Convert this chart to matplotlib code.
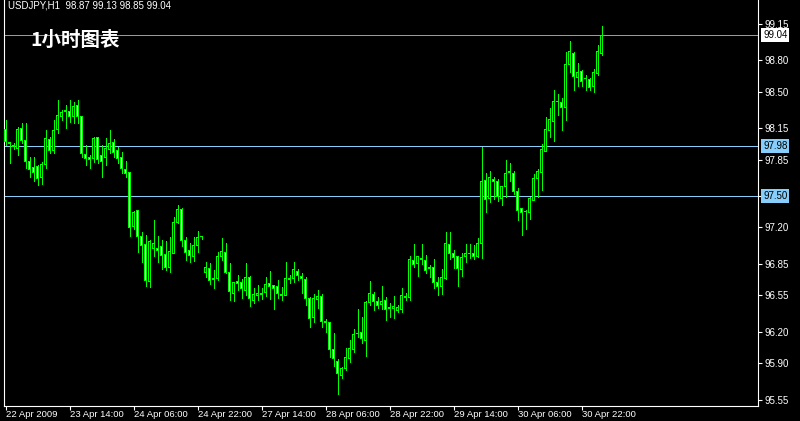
import matplotlib
matplotlib.use('Agg')
import matplotlib.pyplot as plt
from matplotlib.patches import Rectangle

# ---- data (USDJPY H1, 150 bars starting 22 Apr 2009 22:00) ----
opens = [
    98.14, 98.01, 97.98, 97.96, 98.15, 98.03, 97.83, 97.77, 97.78, 97.68,
    97.80, 98.04, 97.94, 98.14, 98.26, 98.31, 98.31, 98.26, 98.37, 98.26,
    97.90, 97.87, 97.86, 98.06, 97.89, 97.87, 97.95, 98.01, 97.94, 97.87,
    97.75, 97.73, 97.21, 97.36, 97.11, 97.04, 96.68, 97.00, 97.00, 97.02,
    96.94, 96.82, 96.95, 97.25, 97.37, 97.07, 96.98, 96.92, 97.03, 97.11,
    96.77, 96.81, 96.71, 96.71, 96.92, 96.96, 96.77, 96.57, 96.68, 96.67,
    96.60, 96.72, 96.50, 96.55, 96.56, 96.58, 96.66, 96.64, 96.63, 96.56,
    96.55, 96.71, 96.71, 96.78, 96.73, 96.70, 96.52, 96.34, 96.51, 96.54,
    96.30, 96.29, 96.03, 95.92, 95.78, 95.85, 95.94, 96.03, 96.18, 96.19,
    96.12, 96.48, 96.56, 96.49, 96.46, 96.50, 96.43, 96.42, 96.40, 96.41,
    96.53, 96.53, 96.88, 96.85, 96.90, 96.88, 96.82, 96.82, 96.67, 96.63,
    96.71, 97.04, 96.95, 96.92, 96.80, 96.92, 96.95, 96.95, 96.92, 97.05,
    97.65, 97.48, 97.66, 97.64, 97.48, 97.59, 97.74, 97.72, 97.54, 97.38,
    97.35, 97.34, 97.46, 97.67, 97.73, 97.93, 98.13, 98.21, 98.41, 98.40,
    98.35, 98.76, 98.87, 98.64, 98.69, 98.63, 98.62, 98.55, 98.67, 98.87,
]
highs = [
    98.23, 98.02, 98.01, 98.16, 98.20, 98.20, 97.87, 97.87, 97.80, 97.83,
    98.13, 98.07, 98.23, 98.42, 98.32, 98.37, 98.42, 98.40, 98.42, 98.26,
    97.99, 97.89, 98.07, 98.06, 97.99, 98.06, 98.13, 98.05, 97.97, 97.92,
    97.84, 97.73, 97.36, 97.36, 97.16, 97.13, 97.08, 97.27, 97.12, 97.08,
    97.07, 97.11, 97.30, 97.41, 97.39, 97.11, 97.05, 97.11, 97.17, 97.12,
    96.87, 96.86, 96.79, 96.96, 97.10, 97.05, 96.86, 96.68, 96.74, 96.71,
    96.86, 96.73, 96.62, 96.65, 96.62, 96.72, 96.78, 96.65, 96.70, 96.63,
    96.87, 96.74, 96.87, 96.80, 96.76, 96.72, 96.53, 96.56, 96.60, 96.56,
    96.32, 96.29, 96.19, 95.94, 95.86, 96.04, 96.12, 96.23, 96.42, 96.34,
    96.49, 96.69, 96.58, 96.53, 96.64, 96.53, 96.48, 96.54, 96.46, 96.62,
    96.57, 96.93, 97.04, 96.93, 97.04, 96.94, 96.84, 96.90, 96.72, 96.80,
    97.16, 97.16, 96.98, 96.93, 96.95, 97.04, 97.04, 97.03, 97.10, 97.97,
    97.72, 97.74, 97.68, 97.66, 97.59, 97.85, 97.82, 97.74, 97.58, 97.39,
    97.37, 97.49, 97.71, 97.76, 98.00, 98.26, 98.34, 98.52, 98.48, 98.44,
    98.88, 98.99, 98.88, 98.77, 98.71, 98.66, 98.63, 98.72, 98.95, 99.13,
]
lows = [
    97.99, 97.82, 97.95, 97.89, 98.01, 97.77, 97.68, 97.64, 97.61, 97.62,
    97.77, 97.91, 97.91, 98.10, 98.23, 98.15, 98.21, 98.20, 98.20, 97.87,
    97.80, 97.77, 97.83, 97.82, 97.68, 97.80, 97.91, 97.87, 97.82, 97.72,
    97.68, 97.12, 97.18, 96.96, 96.87, 96.64, 96.63, 96.93, 96.87, 96.80,
    96.79, 96.77, 96.95, 97.24, 97.02, 96.89, 96.87, 96.88, 96.96, 97.09,
    96.72, 96.66, 96.62, 96.70, 96.89, 96.76, 96.50, 96.49, 96.60, 96.52,
    96.55, 96.45, 96.48, 96.50, 96.51, 96.54, 96.51, 96.42, 96.52, 96.50,
    96.55, 96.67, 96.68, 96.70, 96.57, 96.46, 96.25, 96.29, 96.43, 96.25,
    96.20, 95.96, 95.87, 95.60, 95.76, 95.83, 95.91, 96.01, 96.15, 96.09,
    95.97, 96.46, 96.41, 96.43, 96.42, 96.31, 96.34, 96.33, 96.39, 96.39,
    96.50, 96.50, 96.82, 96.73, 96.85, 96.76, 96.72, 96.62, 96.55, 96.56,
    96.71, 96.90, 96.81, 96.64, 96.73, 96.87, 96.91, 96.90, 96.92, 96.91,
    97.35, 97.44, 97.47, 97.45, 97.41, 97.49, 97.64, 97.52, 97.27, 97.13,
    97.18, 97.28, 97.46, 97.49, 97.56, 97.93, 98.07, 98.03, 98.28, 98.13,
    98.23, 98.69, 98.52, 98.55, 98.55, 98.52, 98.52, 98.50, 98.66, 98.85,
]
closes = [
    98.02, 98.00, 97.97, 98.14, 98.03, 97.83, 97.75, 97.73, 97.67, 97.80,
    98.05, 97.94, 98.13, 98.27, 98.30, 98.32, 98.26, 98.36, 98.26, 97.91,
    97.86, 97.85, 98.05, 97.85, 97.83, 97.96, 98.00, 97.92, 97.86, 97.76,
    97.72, 97.20, 97.34, 97.11, 97.03, 96.69, 97.06, 97.05, 96.98, 96.93,
    96.82, 96.97, 97.25, 97.37, 97.07, 96.96, 96.93, 97.03, 97.10, 97.11,
    96.82, 96.69, 96.70, 96.92, 96.97, 96.77, 96.59, 96.67, 96.66, 96.61,
    96.72, 96.52, 96.56, 96.57, 96.57, 96.65, 96.63, 96.61, 96.57, 96.55,
    96.71, 96.70, 96.80, 96.74, 96.71, 96.52, 96.33, 96.52, 96.54, 96.30,
    96.29, 96.03, 95.94, 95.80, 95.85, 95.95, 96.04, 96.17, 96.18, 96.14,
    96.48, 96.57, 96.49, 96.45, 96.49, 96.41, 96.42, 96.44, 96.43, 96.55,
    96.54, 96.89, 96.84, 96.92, 96.89, 96.79, 96.81, 96.67, 96.63, 96.72,
    97.05, 96.95, 96.91, 96.81, 96.91, 96.95, 96.95, 96.92, 97.05, 97.64,
    97.47, 97.68, 97.64, 97.50, 97.59, 97.72, 97.73, 97.54, 97.36, 97.34,
    97.35, 97.48, 97.67, 97.74, 97.95, 98.14, 98.23, 98.41, 98.41, 98.35,
    98.76, 98.88, 98.65, 98.68, 98.60, 98.63, 98.54, 98.68, 98.88, 99.04,
]
xtick_bars = [0, 16, 32, 48, 64, 80, 96, 112, 128, 144]
xtick_labels = ['22 Apr 2009', '23 Apr 14:00', '24 Apr 06:00', '24 Apr 22:00',
                '27 Apr 14:00', '28 Apr 06:00', '28 Apr 22:00', '29 Apr 14:00',
                '30 Apr 06:00', '30 Apr 22:00']
ytick_values = [99.15, 98.80, 98.50, 98.15, 97.85, 97.50, 97.20, 96.85,
                96.55, 96.20, 95.90, 95.55]
level_lines = [97.98, 97.50]
bid_price = 99.04
header = 'USDJPY,H1  98.87 99.13 98.85 99.04'
title = '1小时图表'

# ---- style ----
LIME = '#00ff00'
FONT = ['Liberation Sans', 'DejaVu Sans']
W, H = 800, 421
AX_L, AX_R, AX_B = 4, 758, 406          # axes box in pixels (from top-left)
YMIN, YMAX = 95.489, 99.378
XMIN = -0.375
XMAX = XMIN + (AX_R - AX_L) / 4.0      # 4 px per bar

fig = plt.figure(figsize=(W / 100, H / 100), dpi=100, facecolor='black')
ax = fig.add_axes([AX_L / W, (H - AX_B) / H, (AX_R - AX_L) / W, AX_B / H])
ax.set_facecolor('black')
ax.set_xlim(XMIN, XMAX)
ax.set_ylim(YMIN, YMAX)

px = (YMAX - YMIN) / AX_B              # one pixel in price units
n = len(opens)
xs = list(range(n))

# horizontal lines
ax.axhline(bid_price, color='#8b9bb0', lw=0.72, zorder=1, antialiased=False)
for lv in level_lines:
    ax.axhline(lv, color='#87cefa', lw=0.72, zorder=1, antialiased=False)

# wicks
ax.vlines(xs, lows, highs, colors=LIME, lw=0.72, zorder=2, antialiased=False)
# bodies: green outer box, inner fill (black = up, white = down)
for i in xs:
    o, c = opens[i], closes[i]
    bot, top = min(o, c), max(o, c)
    ax.add_patch(Rectangle((i - 0.375, bot - 0.5 * px), 0.75,
                           (top - bot) + px, facecolor=LIME, lw=0,
                           zorder=3, antialiased=False))
    if top - bot > 1.5 * px:
        fc = 'black' if c >= o else 'white'
        ax.add_patch(Rectangle((i - 0.125, bot + 0.5 * px), 0.25,
                               (top - bot) - px, facecolor=fc, lw=0,
                               zorder=4, antialiased=False))

# spines
for s in ['left', 'bottom', 'right']:
    ax.spines[s].set_color('white')
    ax.spines[s].set_linewidth(0.8)
ax.spines['top'].set_visible(False)

# y axis on the right (the boxed levels replace their own tick label)
boxed = [bid_price] + level_lines
ax.yaxis.tick_right()
ax.set_yticks(ytick_values)
ax.set_yticklabels(['' if any(abs(v - b) < 1e-9 for b in boxed) else f'{v:.2f}'
                    for v in ytick_values], family=FONT)
ax.tick_params(axis='y', colors='white', length=3, width=0.8, pad=2,
               labelsize=7)

# x axis
ax.set_xticks(xtick_bars)
ax.set_xticklabels(xtick_labels, family=FONT, ha='left')
ax.tick_params(axis='x', colors='white', length=3, width=0.8, pad=0,
               labelsize=6.8)

# price boxes
for v, fc in [(bid_price, 'white')] + [(lv, '#87cefa') for lv in level_lines]:
    ax.annotate(f'{v:.2f}', xy=(1, v), xycoords=('axes fraction', 'data'),
                xytext=(5, 0), textcoords='offset pixels', va='center',
                ha='left', fontsize=7, family=FONT, color='black',
                bbox=dict(boxstyle='square,pad=0.2', fc=fc, ec='none'),
                annotation_clip=False, zorder=5)

# header text
fig.text(8 / W, 1 - 1 / H, header, color='white', fontsize=7,
         family=FONT, va='top', ha='left')
# title
fig.text(30 / W, 1 - 40 / H, title, color='white', fontsize=14,
         fontweight='bold', family=['Noto Sans CJK SC', 'DejaVu Sans'],
         va='center', ha='left', zorder=10)

fig.savefig('out.png', dpi=100, facecolor='black')
